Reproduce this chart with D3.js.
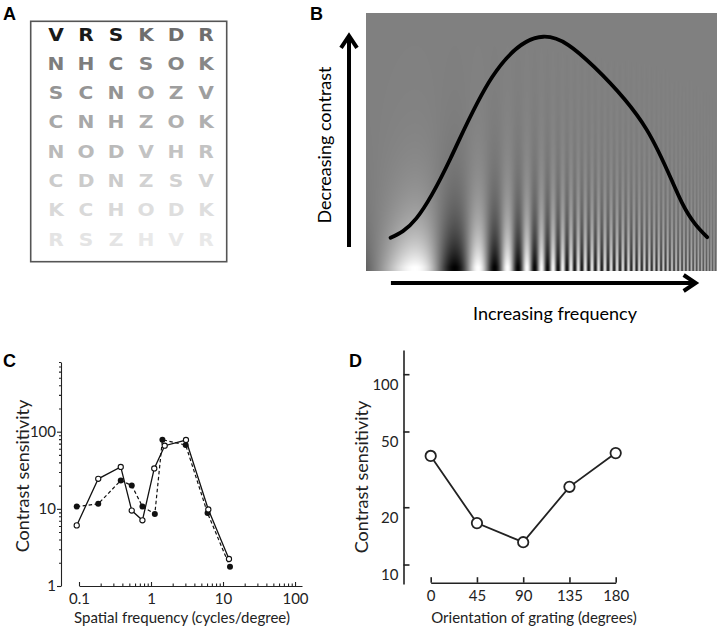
<!DOCTYPE html>
<html><head><meta charset="utf-8">
<script src="https://cdn.jsdelivr.net/npm/d3@7"></script>
<style>
html,body{margin:0;padding:0;background:#fff;}
svg{display:block;}
text{font-family:Lato,"Open Sans",sans-serif;fill:#222;}
</style></head>
<body><svg id="fig" width="720" height="630"></svg>
<script>
// ---------------- DATA ----------------
// Panel A: letter chart rows and gray level of each triplet (0=black,255=white)
const chartRows = ["VRSKDR","NHCSOK","SCNOZV","CNHZOK","NODVHR","CDNZSV","KCHODK","RSZHVR"];
const tripletGray = [25,110,125,135,148,158,168,176,186,195,203,210,217,222,228,233];

// Panel B: schematic contrast-sensitivity envelope (position along axes, 0-100)
const bPos = [7.0,14.4,24,36,50.5,65,80,90,97.2];
const bSens = [12.9,20.5,43.4,75.3,90.8,79.1,54.7,26.5,13.1];

// Panel C: contrast sensitivity vs spatial frequency
const cFreqOpen = [0.093,0.185,0.38,0.54,0.76,1.11,1.55,3.06,6.25,12.1];
const cSensOpen = [6.1,24.5,34.9,9.5,7.1,33.4,65.8,78,9.8,2.24];
const cFreqFilled = [0.093,0.185,0.38,0.54,0.76,1.13,1.44,3.03,6.1,12.5];
const cSensFilled = [10.7,11.6,23.3,20.1,10.7,8.6,78.7,67.2,8.8,1.78];
const cXTicks = [0.1,1,10,100];
const cYTicks = [1,10,100];

// Panel D: contrast sensitivity vs grating orientation
const dOrient = [0,45,90,135,180];
const dSens = [37.2,16.5,13.1,25.6,38.5];
const dYTicks = [10,20,50,100];

// ---------------- DRAW ----------------
const svg = d3.select("#fig");

function panelLabel(t,x,y){
  svg.append("text").attr("x",x).attr("y",y).text(t)
    .style("font-family","'Liberation Sans',Arial,sans-serif")
    .style("font-weight","bold").style("font-size","18px").style("fill","#000");
}

// ===== Panel A =====
panelLabel("A",3,20);
svg.append("rect").attr("x",30.7).attr("y",21.3).attr("width",196).attr("height",240.4)
  .attr("fill","#fff").attr("stroke","#555").attr("stroke-width",1.6);
const colA = d3.scalePoint().domain(d3.range(6)).range([56,206]);
const rowA = d3.scalePoint().domain(d3.range(chartRows.length)).range([34,239]);
chartRows.forEach((row,ri)=>{
  row.split("").forEach((ch,ci)=>{
    const g = tripletGray[ri*2 + (ci<3?0:1)];
    svg.append("text").attr("transform",`translate(${colA(ci)},${rowA(ri)+6.6}) scale(1.12,1)`)
      .attr("text-anchor","middle").text(ch)
      .style("font-family","'DejaVu Sans',sans-serif").style("font-weight","bold")
      .style("font-size","18px").style("fill",d3.rgb(g,g,g));
  });
});

// ===== Panel B =====
panelLabel("B",310,20);
const xB = d3.scaleLinear().domain([0,100]).range([366,717]);
const yB = d3.scaleLinear().domain([0,100]).range([271,13]);
(function drawGrating(){
  const gx0 = xB(0), gy0 = yB(100);
  const W = Math.round(xB(100)-xB(0)), H = Math.round(yB(0)-yB(100));
  const canvas = document.createElement("canvas");
  canvas.width = W; canvas.height = H;
  const ctx = canvas.getContext("2d");
  const img = ctx.createImageData(W,H);
  const A = 0.505, k = 0.0173, xr = 415, xs = 575, xe = 717, Pend = 2.8;
  const P0 = 1/(A*k*Math.exp(k*(xs-xr)));
  function freq(X){
    if (X <= xs) return A*k*Math.exp(k*(X-xr));
    const t = (X-xs)/(xe-xs);
    return 1/(P0 + (Pend-P0)*t);
  }
  const step = 0.05, SS = 4;
  let phase = A*(Math.exp(k*(gx0-xr))-1);
  let X = gx0;
  const col = new Float32Array(W);
  for (let i=0;i<W;i++){
    let acc = 0;
    for (let s=0;s<SS;s++){
      const target = gx0 + i + (s+0.5)/SS;
      while (X < target){ phase += freq(X)*step; X += step; }
      acc += Math.cos(2*Math.PI*phase);
    }
    const f = freq(gx0+i+0.5);
    const blur = Math.exp(-Math.pow(f/0.32,2));
    col[i] = acc/SS*blur;
  }
  for (let j=0;j<H;j++){
    const d = (H - j - 0.5);
    const c = Math.min(1, Math.exp(-(d-4)/40));
    for (let i=0;i<W;i++){
      let v = 128 + 127*c*col[i];
      v = Math.max(0,Math.min(255,v));
      const p = (j*W+i)*4;
      img.data[p]=v; img.data[p+1]=v; img.data[p+2]=v; img.data[p+3]=255;
    }
  }
  ctx.putImageData(img,0,0);
  svg.append("image").attr("x",gx0).attr("y",gy0).attr("width",W).attr("height",H)
    .attr("preserveAspectRatio","none")
    .attr("href",canvas.toDataURL("image/png"));
})();
svg.append("path")
  .datum(bPos.map((p,i)=>[p,bSens[i]]))
  .attr("d",d3.line().x(d=>xB(d[0])).y(d=>yB(d[1])).curve(d3.curveNatural))
  .attr("fill","none").attr("stroke","#000").attr("stroke-width",3.8).attr("stroke-linecap","round");
// arrows
const arrowV = {x:xB(-4.84), y0:yB(9.3), y1:yB(91.5)};
const arrowH = {y:yB(-4.65), x0:xB(7.1), x1:xB(94.2)};
svg.append("line").attr("x1",arrowV.x).attr("x2",arrowV.x).attr("y1",arrowV.y0).attr("y2",arrowV.y1+3)
  .attr("stroke","#000").attr("stroke-width",4);
svg.append("path").attr("d",`M${arrowV.x-8},${arrowV.y1+13}L${arrowV.x},${arrowV.y1+1}L${arrowV.x+8},${arrowV.y1+13}`)
  .attr("fill","none").attr("stroke","#000").attr("stroke-width",4).attr("stroke-linejoin","miter");
svg.append("line").attr("y1",arrowH.y).attr("y2",arrowH.y).attr("x1",arrowH.x0).attr("x2",arrowH.x1-3)
  .attr("stroke","#000").attr("stroke-width",4);
svg.append("path").attr("d",`M${arrowH.x1-13},${arrowH.y-8}L${arrowH.x1-1},${arrowH.y}L${arrowH.x1-13},${arrowH.y+8}`)
  .attr("fill","none").attr("stroke","#000").attr("stroke-width",4).attr("stroke-linejoin","miter");
svg.append("text").attr("transform",`translate(331,145) rotate(-90)`).attr("text-anchor","middle")
  .style("font-size","18px").style("fill","#000").text("Decreasing contrast");
svg.append("text").attr("x",555).attr("y",320).attr("text-anchor","middle")
  .style("font-size","18px").style("fill","#000").text("Increasing frequency");

// ===== Panel C =====
panelLabel("C",3,367);
const xC = d3.scaleLog().domain([0.1,125]).range([79,302]);
const yC = d3.scaleLog().domain([1,800]).range([586,362]);
const minorsX = [], minorsY = [];
[0.1,1,10].forEach(b=>{for(let m=2;m<=9;m++) minorsX.push(b*m);});
[1,10,100].forEach(b=>{for(let m=2;m<=9;m++){ if(b*m<=800) minorsY.push(b*m);}});
const gCx = svg.append("g").attr("transform","translate(0,586)");
gCx.call(d3.axisBottom(xC).tickValues(cXTicks).tickSizeInner(-4).tickSizeOuter(0).tickPadding(7).tickFormat(d3.format("~g")));
gCx.append("g").call(d3.axisBottom(xC).tickValues(minorsX).tickSize(-2.5).tickFormat("")).select(".domain").remove();
const gCy = svg.append("g").attr("transform","translate(61,0)");
gCy.call(d3.axisLeft(yC).tickValues(cYTicks).tickSizeInner(4).tickSizeOuter(0).tickPadding(1).tickFormat(d3.format("~g")));
gCy.append("g").call(d3.axisLeft(yC).tickValues(minorsY).tickSize(2).tickFormat("")).select(".domain").remove();
[gCx,gCy].forEach(g=>{
  g.selectAll("text").style("font-family","Lato,sans-serif").style("font-size","15px").style("fill","#222");
  g.selectAll("path,line").attr("stroke","#222").attr("stroke-width",1.1);
});
const lineC = d3.line().x(d=>xC(d[0])).y(d=>yC(d[1]));
const openC = cFreqOpen.map((f,i)=>[f,cSensOpen[i]]);
const fillC = cFreqFilled.map((f,i)=>[f,cSensFilled[i]]);
svg.append("path").datum(fillC).attr("d",lineC).attr("fill","none").attr("stroke","#111")
  .attr("stroke-width",1.2).attr("stroke-dasharray","3.5,2.5");
svg.append("path").datum(openC).attr("d",lineC).attr("fill","none").attr("stroke","#111").attr("stroke-width",1.3);
svg.selectAll(".cfill").data(fillC).enter().append("circle").attr("class","cfill")
  .attr("cx",d=>xC(d[0])).attr("cy",d=>yC(d[1])).attr("r",3).attr("fill","#111");
svg.selectAll(".copen").data(openC).enter().append("circle").attr("class","copen")
  .attr("cx",d=>xC(d[0])).attr("cy",d=>yC(d[1])).attr("r",2.6).attr("fill","#fff").attr("stroke","#111").attr("stroke-width",1.1);
svg.append("text").attr("transform","translate(29,476) rotate(-90)").attr("text-anchor","middle")
  .style("font-size","18px").text("Contrast sensitivity");
svg.append("text").attr("x",182).attr("y",623).attr("text-anchor","middle")
  .style("font-size","15px").text("Spatial frequency (cycles/degree)");

// ===== Panel D =====
panelLabel("D",349,367);
const xD = d3.scaleLinear().domain([0,180]).range([430.7,615.7]);
const yD = d3.scaleLog().domain([7.9,134]).range([584,350]);
const gDx = svg.append("g").attr("transform","translate(0,582.7)");
gDx.call(d3.axisBottom(xD).tickValues(dOrient).tickSizeInner(-5.5).tickSizeOuter(0).tickPadding(8));
const gDy = svg.append("g").attr("transform","translate(403.5,0)");
gDy.call(d3.axisLeft(yD).tickValues(dYTicks).tickSizeInner(-6).tickSizeOuter(0).tickPadding(5).tickFormat(d3.format("~g")));
gDy.selectAll(".tick text").attr("transform","translate(0,10)");
[gDx,gDy].forEach(g=>{
  g.selectAll("text").style("font-family","Lato,sans-serif").style("font-size","15px").style("fill","#222");
  g.selectAll("path,line").attr("stroke","#222").attr("stroke-width",1.6);
});
const ptsD = dOrient.map((o,i)=>[o,dSens[i]]);
svg.append("path").datum(ptsD).attr("d",d3.line().x(d=>xD(d[0])).y(d=>yD(d[1])))
  .attr("fill","none").attr("stroke","#222").attr("stroke-width",1.8);
svg.selectAll(".dpt").data(ptsD).enter().append("circle").attr("class","dpt")
  .attr("cx",d=>xD(d[0])).attr("cy",d=>yD(d[1])).attr("r",5.2)
  .attr("fill","#fff").attr("stroke","#222").attr("stroke-width",1.8);
svg.append("text").attr("transform","translate(368,477) rotate(-90)").attr("text-anchor","middle")
  .style("font-size","18px").text("Contrast sensitivity");
svg.append("text").attr("x",534).attr("y",623).attr("text-anchor","middle")
  .style("font-size","15px").text("Orientation of grating (degrees)");
</script></body></html>
